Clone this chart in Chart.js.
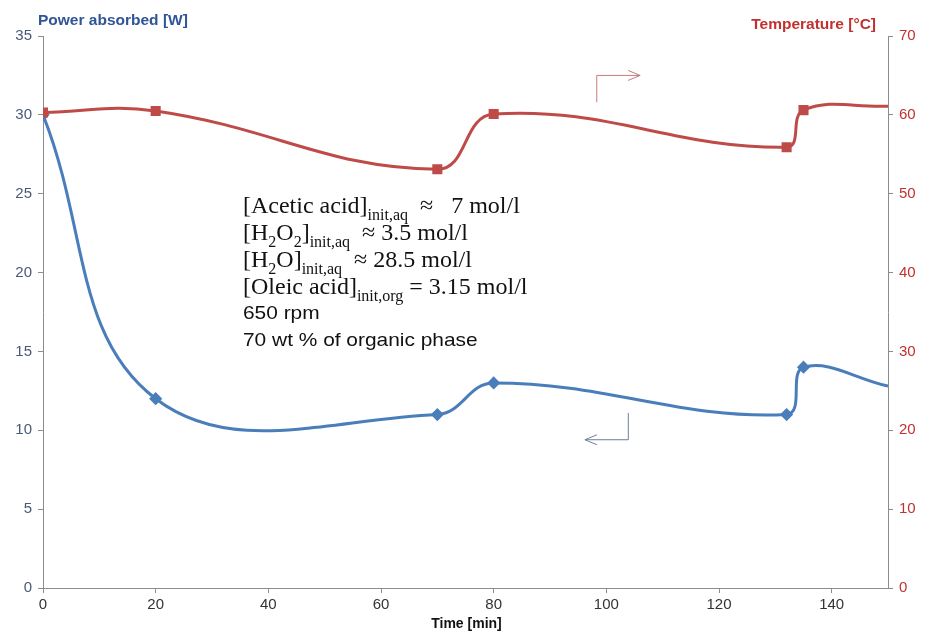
<!DOCTYPE html>
<html>
<head>
<meta charset="utf-8">
<script src="https://cdn.jsdelivr.net/npm/chart.js@4"></script>
<style>
  html, body { margin: 0; padding: 0; background: #fff; }
  #wrap { width: 928px; height: 641px; }
</style>
</head>
<body>
<div id="wrap"><canvas id="chart"></canvas></div>
<script>
const timeMin = [0, 20, 70, 80, 132, 135, 150];
const powerW = [30, 12, 11, 13, 11, 14, 12.8];
const tempC = [60.3, 60.5, 53.1, 60.1, 55.9, 60.6, 61.1];
const markerShown = [5, 5, 5, 5, 5, 5, 0];

const powerTicks = [0, 5, 10, 15, 20, 25, 30, 35];
const tempTicks = [0, 10, 20, 30, 40, 50, 60, 70];
const timeTicks = [0, 20, 40, 60, 80, 100, 120, 140];

const notes = [
  [["[Acetic acid]", "n"], ["init,aq", "s"], ["  \u2248   7 mol/l", "n"]],
  [["[H", "n"], ["2", "s"], ["O", "n"], ["2", "s"], ["]", "n"], ["init,aq", "s"], ["  \u2248 3.5 mol/l", "n"]],
  [["[H", "n"], ["2", "s"], ["O]", "n"], ["init,aq", "s"], ["  \u2248 28.5 mol/l", "n"]],
  [["[Oleic acid]", "n"], ["init,org", "s"], [" = 3.15 mol/l", "n"]],
  [["650 rpm", "a"]],
  [["70 wt % of organic phase", "a"]],
];

const BLUE = "#4a7ebb";
const RED = "#be4b48";
const narrow = "'Liberation Sans Narrow', 'Liberation Sans', Arial, sans-serif";

const toPoints = (ys) => timeMin.map((t, i) => ({ x: t, y: ys[i] }));

const arrow = (ctx, pts, color) => {
  ctx.save();
  ctx.strokeStyle = color;
  ctx.lineWidth = 1;
  ctx.beginPath();
  pts.forEach((p, i) => (i ? ctx.lineTo(p[0], p[1]) : ctx.moveTo(p[0], p[1])));
  ctx.stroke();
  const a = pts[pts.length - 1];
  const b = pts[pts.length - 2];
  const dir = Math.sign(a[0] - b[0]);
  ctx.beginPath();
  ctx.moveTo(a[0] - dir * 12, a[1] - 5);
  ctx.lineTo(a[0], a[1]);
  ctx.lineTo(a[0] - dir * 12, a[1] + 5);
  ctx.stroke();
  ctx.restore();
};

const extras = {
  id: "extras",
  afterDraw(chart) {
    const ctx = chart.ctx;
    const x = chart.scales.x;
    const yL = chart.scales.yPower;
    const yR = chart.scales.yTemp;
    const area = chart.chartArea;

    ctx.save();
    ctx.font = "bold 15.5px 'Liberation Sans', Arial, sans-serif";
    ctx.fillStyle = "#2f5597";
    ctx.textAlign = "left";
    ctx.fillText("Power absorbed [W]", area.left - 5, 25);
    ctx.fillStyle = "#c0312f";
    ctx.textAlign = "right";
    ctx.fillText("Temperature [\u00b0C]", area.right - 12, 29);
    ctx.fillStyle = "#111";
    ctx.textAlign = "center";
    ctx.font = "bold 14px " + narrow;
    ctx.fillText("Time [min]", (x.getPixelForValue(0) + x.getPixelForValue(150)) / 2 + 1, 628);
    ctx.restore();

    // direction arrows
    arrow(ctx, [
      [x.getPixelForValue(98.3), yR.getPixelForValue(61.6)],
      [x.getPixelForValue(98.3), yR.getPixelForValue(65.0)],
      [x.getPixelForValue(106), yR.getPixelForValue(65.0)],
    ], "#c77b79");
    arrow(ctx, [
      [x.getPixelForValue(103.9), yL.getPixelForValue(11.1)],
      [x.getPixelForValue(103.9), yL.getPixelForValue(9.4)],
      [x.getPixelForValue(96.2), yL.getPixelForValue(9.4)],
    ], "#6e7f98");

    // conditions text
    ctx.save();
    ctx.fillStyle = "#111";
    ctx.textAlign = "left";
    const left = x.getPixelForValue(35.5);
    let base = yL.getPixelForValue(23.75);
    notes.forEach((line) => {
      let cx = left;
      line.forEach(([txt, kind]) => {
        if (kind === "a") {
          ctx.save();
          ctx.font = "19px 'Liberation Sans', Arial, sans-serif";
          ctx.translate(cx, base - 2);
          ctx.scale(1.1, 1);
          ctx.fillText(txt, 0, 0);
          ctx.restore();
          return;
        }
        let dy = 0;
        if (kind === "n") ctx.font = "24px 'Liberation Serif', 'Times New Roman', serif";
        else { ctx.font = "16px 'Liberation Serif', 'Times New Roman', serif"; dy = 7; }
        ctx.fillText(txt, cx, base + dy);
        cx += ctx.measureText(txt).width;
      });
      base += 27;
    });
    ctx.restore();
  },
};

new Chart(document.getElementById("chart"), {
  type: "line",
  data: {
    datasets: [
      {
        label: "Temperature",
        data: toPoints(tempC),
        yAxisID: "yTemp",
        borderColor: RED,
        backgroundColor: RED,
        borderWidth: 3,
        pointStyle: "rect",
        pointRadius: markerShown,
        tension: 0.42,
      },
      {
        label: "Power absorbed",
        data: toPoints(powerW),
        yAxisID: "yPower",
        borderColor: BLUE,
        backgroundColor: BLUE,
        borderWidth: 3,
        pointStyle: "rectRot",
        pointRadius: markerShown.map((r) => (r ? 4.5 : 0)),
        tension: 0.4,
      },
    ],
  },
  options: {
    responsive: true,
    maintainAspectRatio: false,
    animation: false,
    layout: { padding: { top: 36, left: 0, right: 0, bottom: 0 } },
    plugins: { legend: { display: false }, tooltip: { enabled: false } },
    scales: {
      x: {
        type: "linear",
        min: 0,
        max: 150,
        afterBuildTicks: (s) => { s.ticks = timeTicks.map((v) => ({ value: v })); },
        afterFit: (s) => { s.height = 53; },
        border: { color: "#8c8c8c" },
        grid: { drawOnChartArea: false, tickLength: 5, color: "#8c8c8c" },
        ticks: { color: "#333", font: { size: 15, family: narrow }, padding: 3, maxRotation: 0 },
      },
      yPower: {
        position: "left",
        min: 0,
        max: 35,
        afterBuildTicks: (s) => { s.ticks = powerTicks.map((v) => ({ value: v })); },
        afterFit: (s) => { s.width = 43; },
        border: { color: "#8c8c8c" },
        grid: { drawOnChartArea: false, tickLength: 5, color: "#8c8c8c" },
        ticks: { color: "#4a5878", font: { size: 15, family: narrow }, padding: 6 },
      },
      yTemp: {
        position: "right",
        min: 0,
        max: 70,
        afterBuildTicks: (s) => { s.ticks = tempTicks.map((v) => ({ value: v })); },
        afterFit: (s) => { s.width = 40; },
        border: { color: "#8c8c8c" },
        grid: { drawOnChartArea: false, tickLength: 5, color: "#8c8c8c" },
        ticks: { color: "#c0312f", font: { size: 15, family: narrow }, padding: 6 },
      },
    },
  },
  plugins: [extras],
});
</script>
</body>
</html>
